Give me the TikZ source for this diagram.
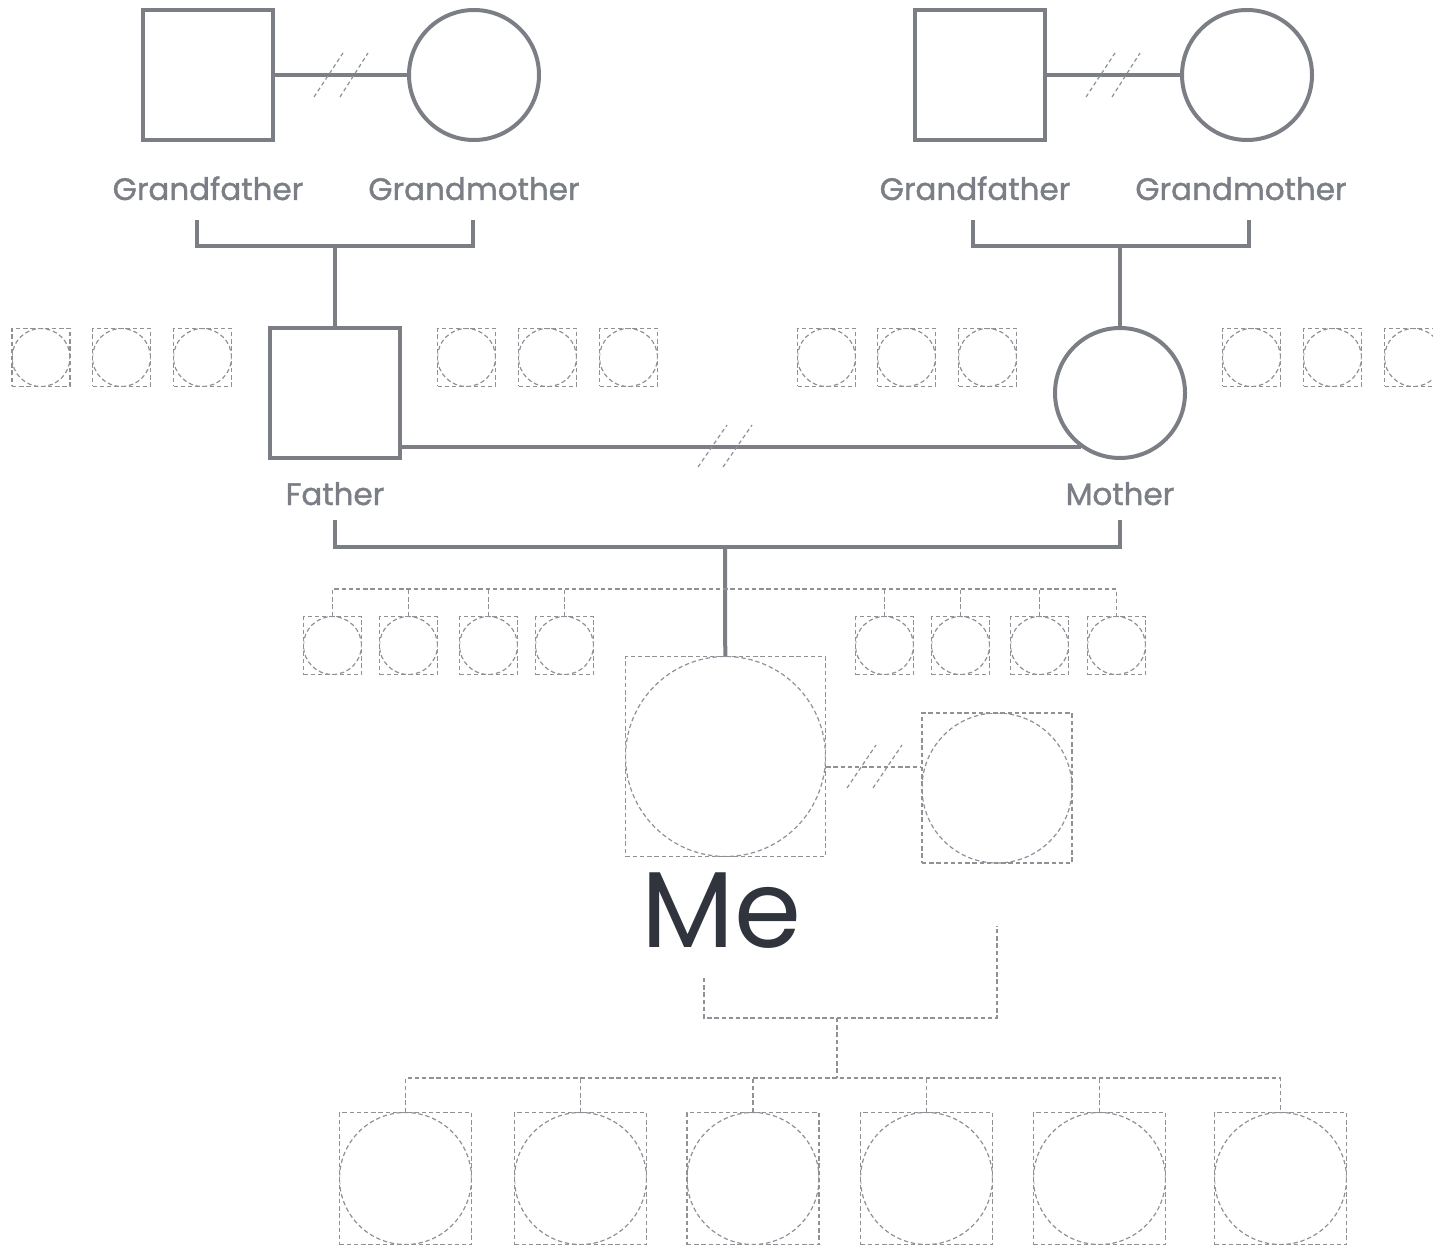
\documentclass[tikz,border=0pt]{standalone}
\usepackage{fontspec}
\setmainfont{Poppins}
\newfontfamily\lblfont{Poppins}[FakeBold=1.3]
\usetikzlibrary{positioning}
\definecolor{linegray}{HTML}{7B7F85}
\definecolor{dashgray}{HTML}{8E9196}
\definecolor{meink}{HTML}{30343C}
\begin{document}
\begin{tikzpicture}[x=0.5pt, y=-0.5pt,
  pline/.style = {draw=linegray, line width=2pt},
  dline/.style = {draw=dashgray, line width=0.6pt, dash pattern=on 2.2pt off 1.4pt},
  brk/.style = {draw=dashgray, line width=0.6pt, dash pattern=on 2pt off 1.5pt},
  male/.style = {pline, rectangle, minimum size=65pt, inner sep=0pt},
  female/.style = {pline, circle, minimum size=65pt, inner sep=0pt},
  ph/.style = {dline, rectangle, minimum size=#1, inner sep=0pt, path picture={\draw[dline] (path picture bounding box.center) circle [radius=#1/2];}},
  lbl/.style = {text=linegray, font=\lblfont\fontsize{15.5}{18}\selectfont, anchor=base}]
                  \useasboundingbox (0,0) rectangle (1433,1245);
                  \node[male] (gf1) at (208,75) {};
                  \node[female] (gm1) at (474,75) {};
                  \node[male] (gf2) at (980,75) {};
                  \node[female] (gm2) at (1247,75) {};
                  \node[male] (fa) at (335,393) {};
                  \node[female] (mo) at (1120,393) {};
                  \node[lbl] (gf1l) at ([yshift=-29pt]gf1.south) {Grandfather};
                  \node[lbl] (gm1l) at ([yshift=-29pt]gm1.south) {Grandmother};
                  \node[lbl] (gf2l) at ([xshift=-2.5pt, yshift=-29pt]gf2.south) {Grandfather};
                  \node[lbl] (gm2l) at ([xshift=-3pt, yshift=-29pt]gm2.south) {Grandmother};
                  \node[lbl] (fal) at ([yshift=-22.5pt]fa.south) {Father};
                  \node[lbl] (mol) at ([yshift=-22.5pt]mo.south) {Mother};

                  \node[ph=29pt] (fs1) at (41,357.5) {};
                  \node[ph=29pt] (fs2) at (121.5,357.5) {};
                  \node[ph=29pt] (fs3) at (202.5,357.5) {};
                  \node[ph=29pt] (fs4) at (466.5,357.5) {};
                  \node[ph=29pt] (fs5) at (547.5,357.5) {};
                  \node[ph=29pt] (fs6) at (628.5,357.5) {};
                  \node[ph=29pt] (ms1) at (826.5,357.5) {};
                  \node[ph=29pt] (ms2) at (906.5,357.5) {};
                  \node[ph=29pt] (ms3) at (987.5,357.5) {};
                  \node[ph=29pt] (ms4) at (1251.5,357.5) {};
                  \node[ph=29pt] (ms5) at (1332.5,357.5) {};
                  \node[ph=29pt] (ms6) at (1413.5,357.5) {};

                  \node[ph=29pt] (s1) at (332.5,645.5) {};
                  \node[ph=29pt] (s2) at (408.5,645.5) {};
                  \node[ph=29pt] (s3) at (488.5,645.5) {};
                  \node[ph=29pt] (s4) at (564.5,645.5) {};
                  \node[ph=29pt] (s5) at (884.5,645.5) {};
                  \node[ph=29pt] (s6) at (960.5,645.5) {};
                  \node[ph=29pt] (s7) at (1039.5,645.5) {};
                  \node[ph=29pt] (s8) at (1116.5,645.5) {};

                  \node[ph=100pt] (me) at (725.5,756.5) {};
                  \node[ph=75pt] (sp) at (997,788) {};
                  \node[font=\fontsize{54}{60}\selectfont, text=meink, anchor=base] (mel) at ([xshift=-2pt, yshift=-45pt]me.south) {Me};

                  \node[ph=66pt] (c1) at (405.5,1178.5) {};
                  \node[ph=66pt] (c2) at (580.5,1178.5) {};
                  \node[ph=66pt] (c3) at (753,1178.5) {};
                  \node[ph=66pt] (c4) at (926.5,1178.5) {};
                  \node[ph=66pt] (c5) at (1099.5,1178.5) {};
                  \node[ph=66pt] (c6) at (1280.5,1178.5) {};

                  \coordinate (j1) at (335,246);
                  \coordinate (j2) at (1120,246);
                  \coordinate (j3) at (725,547);
                  \coordinate (sb) at (725,589);
                  \coordinate (mx) at (874,767);
                  \coordinate (cb) at (837,1018);
                  \coordinate (kb) at (837,1078);

                  \draw[pline] (gf1) -- (gm1);
                  \draw[pline] (gf2) -- (gm2);
                  \draw[pline] (197,220) |- (j1) -| (473,220);
                  \draw[pline] (j1) -- (fa);
                  \draw[pline] (973,220) |- (j2) -| (1249,220);
                  \draw[pline] (j2) -- (mo);
                  \draw[pline] (fa.east |- mo.234) -- (mo.234);
                  \draw[pline] (335,520) |- (j3) -| (1120,520);
                  \draw[pline] (j3) -- (me);

                  \draw[brk] (314,97) -- (343,53);
                  \draw[brk] (340,97) -- (368,53);
                  \draw[brk] (1086,97) -- (1115,53);
                  \draw[brk] (1112,97) -- (1140,53);
                  \draw[brk] (698,467) -- (727,425);
                  \draw[brk] (723,467) -- (752,425);
                  \draw[brk] (847,788) -- (876,745);
                  \draw[brk] (873,788) -- (902,745);

                  \draw[dline] (s1.north) |- (sb) -| (s8.north);
                  \draw[dline] (s2.north) -- (s2.north |- sb);
                  \draw[dline] (s3.north) -- (s3.north |- sb);
                  \draw[dline] (s4.north) -- (s4.north |- sb);
                  \draw[dline] (s5.north) -- (s5.north |- sb);
                  \draw[dline] (s6.north) -- (s6.north |- sb);
                  \draw[dline] (s7.north) -- (s7.north |- sb);
                  \draw[dline] (me.east |- mx) -- (sp.west |- mx);
                  \draw[dline] (704,978) |- (cb) -| ([yshift=-31pt]sp.south);
                  \draw[dline] (cb) -- (kb);
                  \draw[dline] (c1.north) |- (kb) -| (c6.north);
                  \draw[dline] (c2.north) -- (c2.north |- kb);
                  \draw[dline] (c3.north) -- (c3.north |- kb);
                  \draw[dline] (c4.north) -- (c4.north |- kb);
                  \draw[dline] (c5.north) -- (c5.north |- kb);
\end{tikzpicture}
\end{document}
